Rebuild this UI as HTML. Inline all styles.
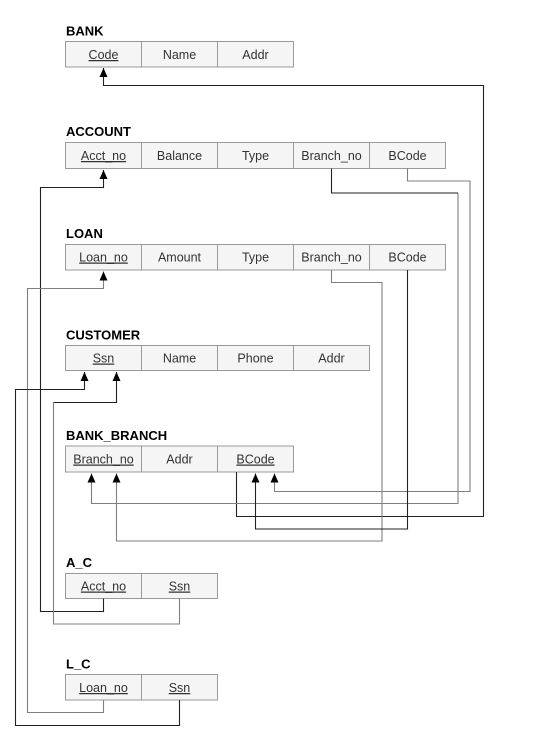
<!DOCTYPE html>
<html><head><meta charset="utf-8"><style>
html,body{margin:0;padding:0;background:#fff;}
svg{display:block;}
.t{font-family:"Liberation Sans",Arial,sans-serif;font-size:13px;font-weight:bold;fill:#000;}
.c{font-family:"Liberation Sans",Arial,sans-serif;font-size:12.5px;fill:#333;text-anchor:middle;}
.u{text-decoration:underline;}
.cell{fill:#f5f5f5;stroke:#9a9a9a;stroke-width:1;}
.d{fill:none;stroke:#222;stroke-width:1.1;}
.g{fill:none;stroke:#808080;stroke-width:1.1;}
</style></head><body>
<svg width="539" height="741" viewBox="0 0 539 741" xmlns="http://www.w3.org/2000/svg">
<defs>
<marker id="a" markerWidth="8" markerHeight="9" refX="4" refY="0" orient="0" markerUnits="userSpaceOnUse">
<path d="M0,9 L4,0 L8,9 Z" fill="#000"/>
</marker>
</defs>

<!-- BANK -->
<text class="t" x="66" y="35.5">BANK</text>
<rect class="cell" x="65.5" y="41.5" width="76" height="25.5"/>
<rect class="cell" x="141.5" y="41.5" width="76" height="25.5"/>
<rect class="cell" x="217.5" y="41.5" width="76" height="25.5"/>
<text class="c u" x="103.5" y="59">Code</text>
<text class="c" x="179.5" y="59">Name</text>
<text class="c" x="255.5" y="59">Addr</text>

<!-- ACCOUNT -->
<text class="t" x="66" y="136">ACCOUNT</text>
<rect class="cell" x="65.5" y="142.5" width="76" height="26"/>
<rect class="cell" x="141.5" y="142.5" width="76" height="26"/>
<rect class="cell" x="217.5" y="142.5" width="76" height="26"/>
<rect class="cell" x="293.5" y="142.5" width="76" height="26"/>
<rect class="cell" x="369.5" y="142.5" width="76" height="26"/>
<text class="c u" x="103.5" y="160">Acct_no</text>
<text class="c" x="179.5" y="160">Balance</text>
<text class="c" x="255.5" y="160">Type</text>
<text class="c" x="331.5" y="160">Branch_no</text>
<text class="c" x="407.5" y="160">BCode</text>

<!-- LOAN -->
<text class="t" x="66" y="238">LOAN</text>
<rect class="cell" x="65.5" y="244.5" width="76" height="25.5"/>
<rect class="cell" x="141.5" y="244.5" width="76" height="25.5"/>
<rect class="cell" x="217.5" y="244.5" width="76" height="25.5"/>
<rect class="cell" x="293.5" y="244.5" width="76" height="25.5"/>
<rect class="cell" x="369.5" y="244.5" width="76" height="25.5"/>
<text class="c u" x="103.5" y="261.5">Loan_no</text>
<text class="c" x="179.5" y="261.5">Amount</text>
<text class="c" x="255.5" y="261.5">Type</text>
<text class="c" x="331.5" y="261.5">Branch_no</text>
<text class="c" x="407.5" y="261.5">BCode</text>

<!-- CUSTOMER -->
<text class="t" x="66" y="339.5">CUSTOMER</text>
<rect class="cell" x="65.5" y="345.5" width="76" height="25"/>
<rect class="cell" x="141.5" y="345.5" width="76" height="25"/>
<rect class="cell" x="217.5" y="345.5" width="76" height="25"/>
<rect class="cell" x="293.5" y="345.5" width="76" height="25"/>
<text class="c u" x="103.5" y="362.5">Ssn</text>
<text class="c" x="179.5" y="362.5">Name</text>
<text class="c" x="255.5" y="362.5">Phone</text>
<text class="c" x="331.5" y="362.5">Addr</text>

<!-- BANK_BRANCH -->
<text class="t" x="66" y="440">BANK_BRANCH</text>
<rect class="cell" x="65.5" y="446" width="76" height="26"/>
<rect class="cell" x="141.5" y="446" width="76" height="26"/>
<rect class="cell" x="217.5" y="446" width="76" height="26"/>
<text class="c u" x="103.5" y="463.5">Branch_no</text>
<text class="c" x="179.5" y="463.5">Addr</text>
<text class="c u" x="255.5" y="463.5">BCode</text>

<!-- A_C -->
<text class="t" x="66" y="567">A_C</text>
<rect class="cell" x="65.5" y="573.5" width="76" height="25"/>
<rect class="cell" x="141.5" y="573.5" width="76" height="25"/>
<text class="c u" x="103.5" y="590.5">Acct_no</text>
<text class="c u" x="179.5" y="590.5">Ssn</text>

<!-- L_C -->
<text class="t" x="66" y="668.5">L_C</text>
<rect class="cell" x="65.5" y="674.5" width="76" height="25.5"/>
<rect class="cell" x="141.5" y="674.5" width="76" height="25.5"/>
<text class="c u" x="103.5" y="692">Loan_no</text>
<text class="c u" x="179.5" y="692">Ssn</text>

<!-- connectors -->
<path class="d" d="M236.5,472 V516.5 H483.5 V85.5 H103.5 V68" marker-end="url(#a)"/>
<path class="d" d="M103.5,598.5 V611.5 H40.5 V187.5 H103.5 V170" marker-end="url(#a)"/>
<path class="g" d="M103.5,700 V712.5 H27.5 V288.5 H103.5 V271.5" marker-end="url(#a)"/>
<path class="d" d="M179.5,700 V725.5 H15.5 V389.5 H84.5 V372" marker-end="url(#a)"/>
<path class="g" d="M179.5,598.5 V624 H53.5 V402.5"/>
<path class="d" d="M53.5,402.5 H116.5 V372" marker-end="url(#a)"/>
<path class="g" d="M458,193 V503.5 H91.5 V473.5" marker-end="url(#a)"/>
<path class="d" d="M331.5,168.5 V193 H458"/>
<path class="g" d="M407.5,168.5 V181 H470 V491.5 H274.5 V473.5" marker-end="url(#a)"/>
<path class="g" d="M331.5,270 V282.5 H382 V541 H116.5 V473.5" marker-end="url(#a)"/>
<path class="d" d="M407.5,270 V529 H255.5 V473.5" marker-end="url(#a)"/>
</svg>
</body></html>
